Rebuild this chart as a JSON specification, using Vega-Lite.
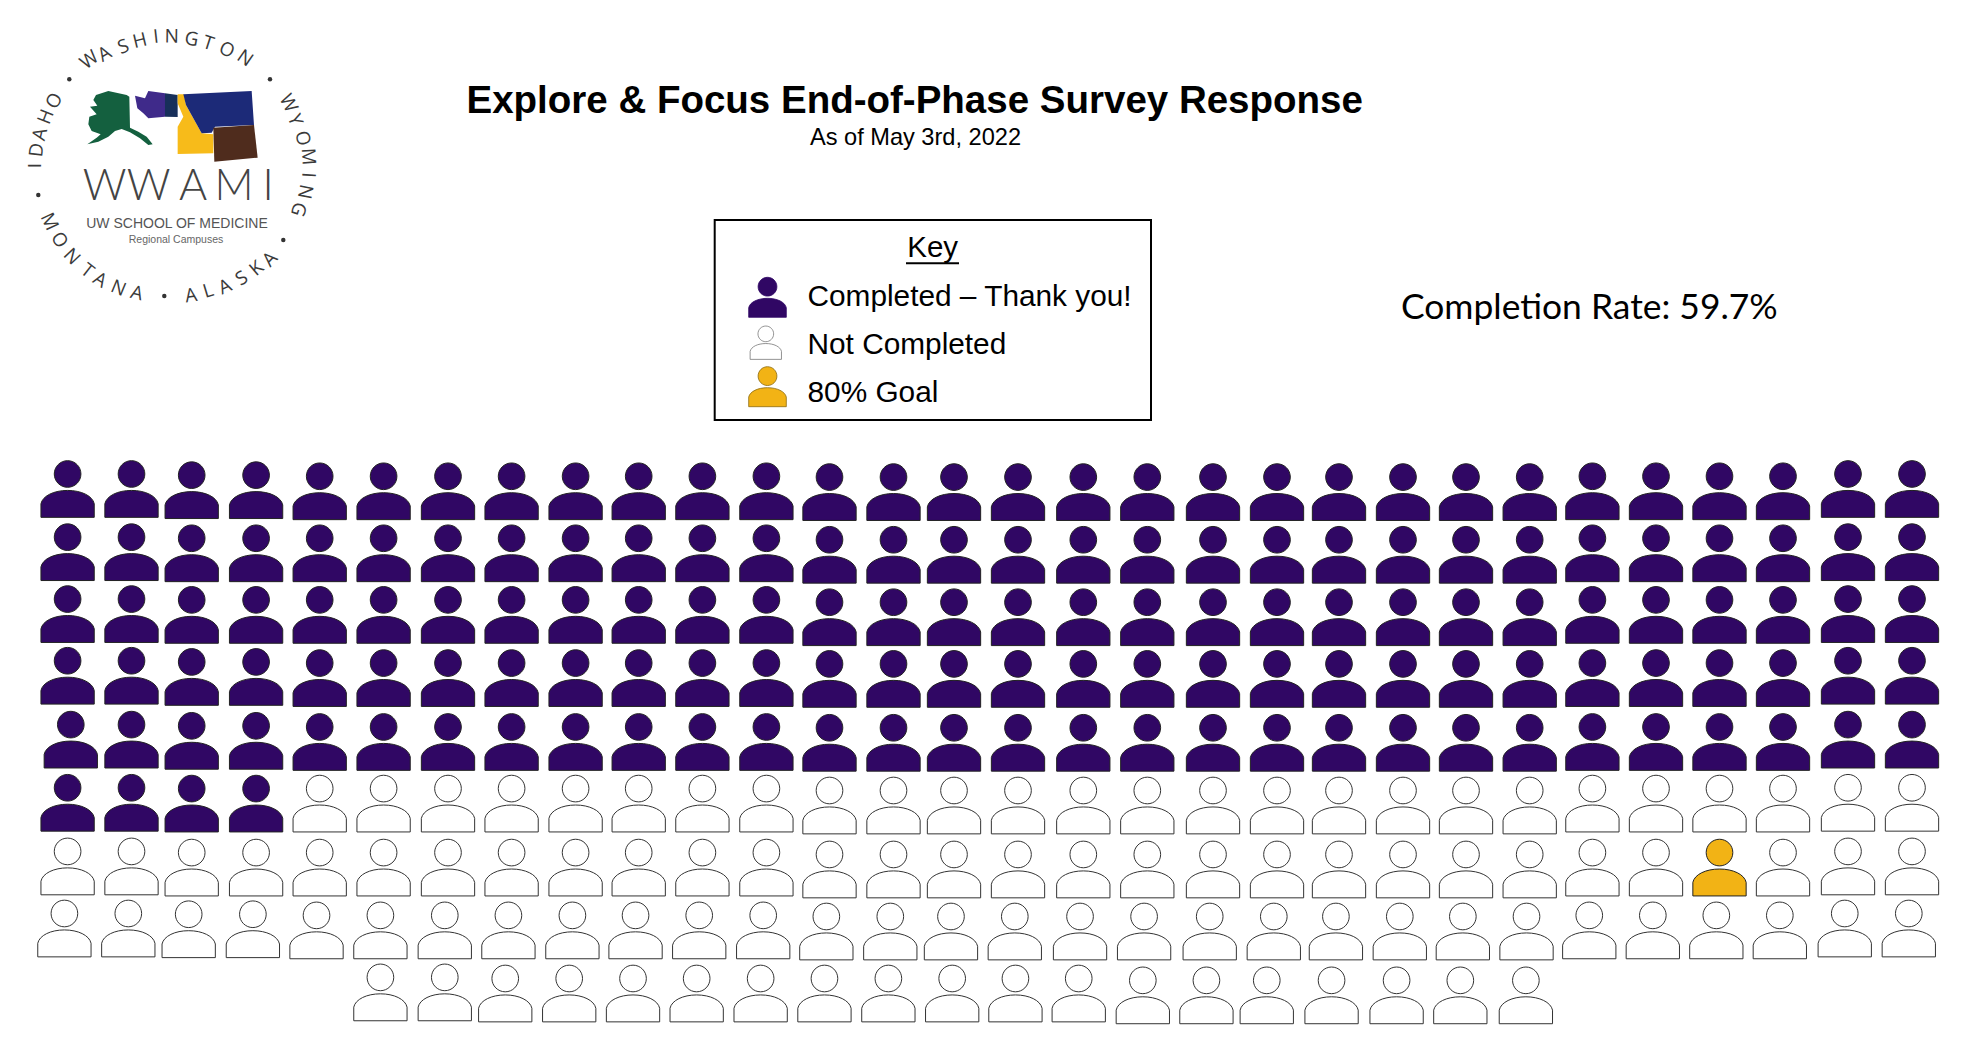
{"$schema":"https://vega.github.io/schema/vega-lite/v6.json","width":1970,"height":1054,"padding":0,"autosize":{"type":"fit","contains":"padding"},"background":"white","config":{"view":{"stroke":null}},
"datasets":{"people":[
{"col":1,"row":0.963,"status":"Completed"},{"col":2,"row":0.963,"status":"Completed"},{"col":3,"row":0.982,"status":"Completed"},{"col":4,"row":0.982,"status":"Completed"},{"col":5,"row":1,"status":"Completed"},{"col":6,"row":1,"status":"Completed"},{"col":7,"row":1,"status":"Completed"},{"col":8,"row":1,"status":"Completed"},{"col":9,"row":1,"status":"Completed"},{"col":10,"row":1,"status":"Completed"},{"col":11,"row":1,"status":"Completed"},{"col":12,"row":1,"status":"Completed"},{"col":13,"row":1.013,"status":"Completed"},{"col":14,"row":1.013,"status":"Completed"},{"col":15,"row":1.013,"status":"Completed"},{"col":16,"row":1.013,"status":"Completed"},{"col":17,"row":1.013,"status":"Completed"},{"col":18,"row":1.013,"status":"Completed"},{"col":19,"row":1.013,"status":"Completed"},{"col":20,"row":1.013,"status":"Completed"},{"col":21,"row":1.013,"status":"Completed"},{"col":22,"row":1.013,"status":"Completed"},{"col":23,"row":1.013,"status":"Completed"},{"col":24,"row":1.013,"status":"Completed"},{"col":25,"row":1,"status":"Completed"},{"col":26,"row":1,"status":"Completed"},{"col":27,"row":1,"status":"Completed"},{"col":28,"row":1,"status":"Completed"},{"col":29,"row":0.963,"status":"Completed"},{"col":30,"row":0.963,"status":"Completed"},
{"col":1,"row":1.982,"status":"Completed"},{"col":2,"row":1.982,"status":"Completed"},{"col":3,"row":2,"status":"Completed"},{"col":4,"row":2,"status":"Completed"},{"col":5,"row":2,"status":"Completed"},{"col":6,"row":2,"status":"Completed"},{"col":7,"row":2,"status":"Completed"},{"col":8,"row":2,"status":"Completed"},{"col":9,"row":2,"status":"Completed"},{"col":10,"row":2,"status":"Completed"},{"col":11,"row":2,"status":"Completed"},{"col":12,"row":2,"status":"Completed"},{"col":13,"row":2.024,"status":"Completed"},{"col":14,"row":2.024,"status":"Completed"},{"col":15,"row":2.024,"status":"Completed"},{"col":16,"row":2.024,"status":"Completed"},{"col":17,"row":2.024,"status":"Completed"},{"col":18,"row":2.024,"status":"Completed"},{"col":19,"row":2.024,"status":"Completed"},{"col":20,"row":2.024,"status":"Completed"},{"col":21,"row":2.024,"status":"Completed"},{"col":22,"row":2.024,"status":"Completed"},{"col":23,"row":2.024,"status":"Completed"},{"col":24,"row":2.024,"status":"Completed"},{"col":25,"row":2,"status":"Completed"},{"col":26,"row":2,"status":"Completed"},{"col":27,"row":2,"status":"Completed"},{"col":28,"row":2,"status":"Completed"},{"col":29,"row":1.982,"status":"Completed"},{"col":30,"row":1.982,"status":"Completed"},
{"col":1,"row":2.987,"status":"Completed"},{"col":2,"row":2.987,"status":"Completed"},{"col":3,"row":3,"status":"Completed"},{"col":4,"row":3,"status":"Completed"},{"col":5,"row":3,"status":"Completed"},{"col":6,"row":3,"status":"Completed"},{"col":7,"row":3,"status":"Completed"},{"col":8,"row":3,"status":"Completed"},{"col":9,"row":3,"status":"Completed"},{"col":10,"row":3,"status":"Completed"},{"col":11,"row":3,"status":"Completed"},{"col":12,"row":3,"status":"Completed"},{"col":13,"row":3.037,"status":"Completed"},{"col":14,"row":3.037,"status":"Completed"},{"col":15,"row":3.037,"status":"Completed"},{"col":16,"row":3.037,"status":"Completed"},{"col":17,"row":3.037,"status":"Completed"},{"col":18,"row":3.037,"status":"Completed"},{"col":19,"row":3.037,"status":"Completed"},{"col":20,"row":3.037,"status":"Completed"},{"col":21,"row":3.037,"status":"Completed"},{"col":22,"row":3.037,"status":"Completed"},{"col":23,"row":3.037,"status":"Completed"},{"col":24,"row":3.037,"status":"Completed"},{"col":25,"row":3,"status":"Completed"},{"col":26,"row":3,"status":"Completed"},{"col":27,"row":3,"status":"Completed"},{"col":28,"row":3,"status":"Completed"},{"col":29,"row":2.987,"status":"Completed"},{"col":30,"row":2.987,"status":"Completed"},
{"col":1,"row":3.963,"status":"Completed"},{"col":2,"row":3.963,"status":"Completed"},{"col":3,"row":3.982,"status":"Completed"},{"col":4,"row":3.982,"status":"Completed"},{"col":5,"row":4,"status":"Completed"},{"col":6,"row":4,"status":"Completed"},{"col":7,"row":4,"status":"Completed"},{"col":8,"row":4,"status":"Completed"},{"col":9,"row":4,"status":"Completed"},{"col":10,"row":4,"status":"Completed"},{"col":11,"row":4,"status":"Completed"},{"col":12,"row":4,"status":"Completed"},{"col":13,"row":4.013,"status":"Completed"},{"col":14,"row":4.013,"status":"Completed"},{"col":15,"row":4.013,"status":"Completed"},{"col":16,"row":4.013,"status":"Completed"},{"col":17,"row":4.013,"status":"Completed"},{"col":18,"row":4.013,"status":"Completed"},{"col":19,"row":4.013,"status":"Completed"},{"col":20,"row":4.013,"status":"Completed"},{"col":21,"row":4.013,"status":"Completed"},{"col":22,"row":4.013,"status":"Completed"},{"col":23,"row":4.013,"status":"Completed"},{"col":24,"row":4.013,"status":"Completed"},{"col":25,"row":4,"status":"Completed"},{"col":26,"row":4,"status":"Completed"},{"col":27,"row":4,"status":"Completed"},{"col":28,"row":4,"status":"Completed"},{"col":29,"row":3.963,"status":"Completed"},{"col":30,"row":3.963,"status":"Completed"},
{"col":1.05,"row":4.963,"status":"Completed"},{"col":2,"row":4.963,"status":"Completed"},{"col":3,"row":4.982,"status":"Completed"},{"col":4,"row":4.982,"status":"Completed"},{"col":5,"row":5,"status":"Completed"},{"col":6,"row":5,"status":"Completed"},{"col":7,"row":5,"status":"Completed"},{"col":8,"row":5,"status":"Completed"},{"col":9,"row":5,"status":"Completed"},{"col":10,"row":5,"status":"Completed"},{"col":11,"row":5,"status":"Completed"},{"col":12,"row":5,"status":"Completed"},{"col":13,"row":5.013,"status":"Completed"},{"col":14,"row":5.013,"status":"Completed"},{"col":15,"row":5.013,"status":"Completed"},{"col":16,"row":5.013,"status":"Completed"},{"col":17,"row":5.013,"status":"Completed"},{"col":18,"row":5.013,"status":"Completed"},{"col":19,"row":5.013,"status":"Completed"},{"col":20,"row":5.013,"status":"Completed"},{"col":21,"row":5.013,"status":"Completed"},{"col":22,"row":5.013,"status":"Completed"},{"col":23,"row":5.013,"status":"Completed"},{"col":24,"row":5.013,"status":"Completed"},{"col":25,"row":5,"status":"Completed"},{"col":26,"row":5,"status":"Completed"},{"col":27,"row":5,"status":"Completed"},{"col":28,"row":5,"status":"Completed"},{"col":29,"row":4.963,"status":"Completed"},{"col":30,"row":4.963,"status":"Completed"},
{"col":1,"row":5.987,"status":"Completed"},{"col":2,"row":5.987,"status":"Completed"},{"col":3,"row":6,"status":"Completed"},{"col":4,"row":6,"status":"Completed"},{"col":5,"row":6,"status":"Not Completed"},{"col":6,"row":6,"status":"Not Completed"},{"col":7,"row":6,"status":"Not Completed"},{"col":8,"row":6,"status":"Not Completed"},{"col":9,"row":6,"status":"Not Completed"},{"col":10,"row":6,"status":"Not Completed"},{"col":11,"row":6,"status":"Not Completed"},{"col":12,"row":6,"status":"Not Completed"},{"col":13,"row":6.03,"status":"Not Completed"},{"col":14,"row":6.03,"status":"Not Completed"},{"col":15,"row":6.03,"status":"Not Completed"},{"col":16,"row":6.03,"status":"Not Completed"},{"col":17,"row":6.03,"status":"Not Completed"},{"col":18,"row":6.03,"status":"Not Completed"},{"col":19,"row":6.03,"status":"Not Completed"},{"col":20,"row":6.03,"status":"Not Completed"},{"col":21,"row":6.03,"status":"Not Completed"},{"col":22,"row":6.03,"status":"Not Completed"},{"col":23,"row":6.03,"status":"Not Completed"},{"col":24,"row":6.03,"status":"Not Completed"},{"col":25,"row":6,"status":"Not Completed"},{"col":26,"row":6,"status":"Not Completed"},{"col":27,"row":6,"status":"Not Completed"},{"col":28,"row":6,"status":"Not Completed"},{"col":29,"row":5.987,"status":"Not Completed"},{"col":30,"row":5.987,"status":"Not Completed"},
{"col":1,"row":6.982,"status":"Not Completed"},{"col":2,"row":6.982,"status":"Not Completed"},{"col":3,"row":7,"status":"Not Completed"},{"col":4,"row":7,"status":"Not Completed"},{"col":5,"row":7,"status":"Not Completed"},{"col":6,"row":7,"status":"Not Completed"},{"col":7,"row":7,"status":"Not Completed"},{"col":8,"row":7,"status":"Not Completed"},{"col":9,"row":7,"status":"Not Completed"},{"col":10,"row":7,"status":"Not Completed"},{"col":11,"row":7,"status":"Not Completed"},{"col":12,"row":7,"status":"Not Completed"},{"col":13,"row":7.03,"status":"Not Completed"},{"col":14,"row":7.03,"status":"Not Completed"},{"col":15,"row":7.03,"status":"Not Completed"},{"col":16,"row":7.03,"status":"Not Completed"},{"col":17,"row":7.03,"status":"Not Completed"},{"col":18,"row":7.03,"status":"Not Completed"},{"col":19,"row":7.03,"status":"Not Completed"},{"col":20,"row":7.03,"status":"Not Completed"},{"col":21,"row":7.03,"status":"Not Completed"},{"col":22,"row":7.03,"status":"Not Completed"},{"col":23,"row":7.03,"status":"Not Completed"},{"col":24,"row":7.03,"status":"Not Completed"},{"col":25,"row":7,"status":"Not Completed"},{"col":26,"row":7,"status":"Not Completed"},{"col":27,"row":7,"status":"80% Goal"},{"col":28,"row":7,"status":"Not Completed"},{"col":29,"row":6.982,"status":"Not Completed"},{"col":30,"row":6.982,"status":"Not Completed"},
{"col":0.95,"row":7.97,"status":"Not Completed"},{"col":1.95,"row":7.97,"status":"Not Completed"},{"col":2.95,"row":7.982,"status":"Not Completed"},{"col":3.95,"row":7.982,"status":"Not Completed"},{"col":4.95,"row":8,"status":"Not Completed"},{"col":5.95,"row":8,"status":"Not Completed"},{"col":6.95,"row":8,"status":"Not Completed"},{"col":7.95,"row":8,"status":"Not Completed"},{"col":8.95,"row":8,"status":"Not Completed"},{"col":9.95,"row":8,"status":"Not Completed"},{"col":10.95,"row":8,"status":"Not Completed"},{"col":11.95,"row":8,"status":"Not Completed"},{"col":12.95,"row":8.018,"status":"Not Completed"},{"col":13.95,"row":8.018,"status":"Not Completed"},{"col":14.95,"row":8.018,"status":"Not Completed"},{"col":15.95,"row":8.018,"status":"Not Completed"},{"col":16.95,"row":8.018,"status":"Not Completed"},{"col":17.95,"row":8.018,"status":"Not Completed"},{"col":18.95,"row":8.018,"status":"Not Completed"},{"col":19.95,"row":8.018,"status":"Not Completed"},{"col":20.95,"row":8.018,"status":"Not Completed"},{"col":21.95,"row":8.018,"status":"Not Completed"},{"col":22.95,"row":8.018,"status":"Not Completed"},{"col":23.95,"row":8.018,"status":"Not Completed"},{"col":24.95,"row":8,"status":"Not Completed"},{"col":25.95,"row":8,"status":"Not Completed"},{"col":26.95,"row":8,"status":"Not Completed"},{"col":27.95,"row":8,"status":"Not Completed"},{"col":28.95,"row":7.97,"status":"Not Completed"},{"col":29.95,"row":7.97,"status":"Not Completed"},
{"col":5.95,"row":9,"status":"Not Completed"},{"col":6.95,"row":9,"status":"Not Completed"},{"col":7.9,"row":9.018,"status":"Not Completed"},{"col":8.9,"row":9.018,"status":"Not Completed"},{"col":9.91,"row":9.018,"status":"Not Completed"},{"col":10.91,"row":9.018,"status":"Not Completed"},{"col":11.91,"row":9.018,"status":"Not Completed"},{"col":12.92,"row":9.018,"status":"Not Completed"},{"col":13.92,"row":9.018,"status":"Not Completed"},{"col":14.97,"row":9.018,"status":"Not Completed"},{"col":15.96,"row":9.018,"status":"Not Completed"},{"col":16.93,"row":9.018,"status":"Not Completed"},{"col":17.93,"row":9.048,"status":"Not Completed"},{"col":18.9,"row":9.048,"status":"Not Completed"},{"col":19.84,"row":9.048,"status":"Not Completed"},{"col":20.88,"row":9.048,"status":"Not Completed"},{"col":21.9,"row":9.048,"status":"Not Completed"},{"col":22.91,"row":9.048,"status":"Not Completed"},{"col":23.94,"row":9.048,"status":"Not Completed"}
]},
"encoding":{"x":{"field":"x","type":"quantitative","axis":null,"scale":{"domain":[0,1970],"nice":false,"zero":false}},"y":{"field":"y","type":"quantitative","axis":null,"scale":{"domain":[0,1054],"reverse":true,"nice":false,"zero":false}}},
"layer":[
{"data":{"name":"people"},"mark":{"type":"point","shape":"M-0.47,-0.53 A0.47,0.47 0 1 1 0.47,-0.53 A0.47,0.47 0 1 1 -0.47,-0.53 Z M-0.94,1 L-0.94,0.52 C-0.88,0.24 -0.48,0.05 0,0.05 C0.48,0.05 0.88,0.24 0.94,0.52 L0.94,1 Z","filled":true,"size":3215,"strokeWidth":1,"opacity":1},
"encoding":{"x":{"field":"col","type":"quantitative","axis":null,"scale":{"domain":[1,2,3,4,5,6,7,8,9,10,11,12,13,14,15,16,17,18,19,20,21,22,23,24,25,26,27,28,29,30],"range":[67.6,131.5,191.7,256.1,319.7,383.6,448,511.6,575.6,638.7,702.4,766.4,829.5,893.5,954,1018,1083.3,1147.3,1213,1277,1339,1403,1466,1529.7,1592.4,1656,1719.5,1783,1848,1912],"nice":false,"zero":false}},
"y":{"field":"row","type":"quantitative","axis":null,"scale":{"domain":[1,2,3,4,5,6,7,8,9],"range":[491.3,553.3,614.9,678.1,742,803.6,867.6,930.4,992.4],"nice":false,"zero":false}},
"fill":{"field":"status","type":"nominal","legend":null,"scale":{"domain":["Completed","Not Completed","80% Goal"],"range":["#300764","#ffffff","#f2b315"]}},
"stroke":{"field":"status","type":"nominal","legend":null,"scale":{"domain":["Completed","Not Completed","80% Goal"],"range":["#222222","#333333","#222222"]}}}},
{"data":{"values":[{"x":714.7,"x2":1151,"y":220,"y2":420}]},"mark":{"type":"rect","fill":"white","stroke":"black","strokeWidth":2},"encoding":{"x2":{"field":"x2"},"y2":{"field":"y2"}}},
{"data":{"values":[{"x":906,"x2":959,"y":263.3}]},"mark":{"type":"rule","stroke":"black","strokeWidth":2},"encoding":{"x2":{"field":"x2"}}},
{"data":{"values":[{"x":767.5,"y":297.3,"status":"Completed","s":1600},{"x":765.8,"y":342.7,"status":"Not Completed","s":1111},{"x":767.5,"y":386.7,"status":"80% Goal","s":1600}]},"mark":{"type":"point","shape":"M-0.47,-0.53 A0.47,0.47 0 1 1 0.47,-0.53 A0.47,0.47 0 1 1 -0.47,-0.53 Z M-0.94,1 L-0.94,0.52 C-0.88,0.24 -0.48,0.05 0,0.05 C0.48,0.05 0.88,0.24 0.94,0.52 L0.94,1 Z","filled":true,"strokeWidth":0.8,"opacity":1},
"encoding":{"size":{"field":"s","type":"quantitative","scale":null,"legend":null},
"fill":{"field":"status","type":"nominal","legend":null,"scale":{"domain":["Completed","Not Completed","80% Goal"],"range":["#300764","#ffffff","#f2b315"]}},
"stroke":{"field":"status","type":"nominal","legend":null,"scale":{"domain":["Completed","Not Completed","80% Goal"],"range":["#300764","#777777","#8a6a10"]}}}},
{"data":{"values":[{"x":807.5,"y":306,"label":"Completed – Thank you!"},{"x":807.5,"y":353.6,"label":"Not Completed"},{"x":807.5,"y":401.7,"label":"80% Goal"}]},"mark":{"type":"text","font":"Liberation Sans","fontSize":29.8,"align":"left","baseline":"alphabetic","fill":"black"},"encoding":{"text":{"field":"label"}}},
{"data":{"values":[{"x":932.7,"y":257.3,"label":"Key"}]},"mark":{"type":"text","font":"Liberation Sans","fontSize":29.5,"align":"center","baseline":"alphabetic","fill":"black"},"encoding":{"text":{"field":"label"}}},
{"data":{"values":[{"x":914.7,"y":112.7,"label":"Explore & Focus End-of-Phase Survey Response"}]},"mark":{"type":"text","font":"Liberation Sans","fontWeight":"bold","fontSize":38.5,"align":"center","baseline":"alphabetic","fill":"black"},"encoding":{"text":{"field":"label"}}},
{"data":{"values":[{"x":915.5,"y":145,"label":"As of May 3rd, 2022"}]},"mark":{"type":"text","font":"Liberation Sans","fontSize":23.6,"align":"center","baseline":"alphabetic","fill":"black"},"encoding":{"text":{"field":"label"}}},
{"data":{"values":[{"x":1401,"y":319,"label":"Completion Rate: 59.7%"}]},"mark":{"type":"text","font":"Lato","fontSize":35.4,"align":"left","baseline":"alphabetic","fill":"black"},"encoding":{"text":{"field":"label"}}},
{"data":{"values":[{"x":80,"y":85,"region":"Alaska"},{"x":80,"y":85,"region":"Washington west"},{"x":80,"y":85,"region":"Washington east"},{"x":80,"y":85,"region":"Idaho"},{"x":80,"y":85,"region":"Montana"},{"x":80,"y":85,"region":"Wyoming"}]},"mark":{"type":"point","filled":true,"size":0.4444,"opacity":1,"strokeWidth":0},
"encoding":{"fill":{"field":"region","type":"nominal","legend":null,"scale":{"domain":["Alaska","Washington west","Washington east","Idaho","Montana","Wyoming"],"range":["#14603f","#3f2a8a","#172f5a","#f7bb1a","#1c2a78","#4f2c1d"]}},
"shape":{"field":"region","type":"nominal","legend":null,"scale":{"domain":["Alaska","Washington west","Washington east","Idaho","Montana","Wyoming"],"range":["M48,30 L85,18 L140,30 L148,35 L150,128 L175,140 L200,155 L218,178 L205,180 L180,160 L150,142 L125,132 L105,138 L85,155 L55,170 L22,178 L50,158 L62,148 L35,138 L25,118 L28,95 L50,88 L30,65 L52,62 L40,45 Z","M165,32 L195,40 L205,18 L255,25 L255,95 L205,100 L190,85 L172,70 Z","M255,25 L293,30 L293,96 L255,95 Z","M293,28 L312,28 L318,60 L340,100 L365,145 L400,148 L400,205 L293,207 L293,125 L310,95 L293,55 Z","M310,28 L515,18 L522,120 L405,125 L395,143 L365,145 L340,100 L318,60 Z","M400,128 L522,120 L533,218 L403,230 Z"]}}}},
{"data":{"values":[{"x":89.3,"y":60,"a":-37.5,"label":"W"},{"x":104.5,"y":54,"a":-30.6,"label":"A"},{"x":123.3,"y":46.7,"a":-21.5,"label":"S"},{"x":140,"y":40.7,"a":-13.6,"label":"H"},{"x":156,"y":36.7,"a":-6.2,"label":"I"},{"x":171.7,"y":36.7,"a":0.7,"label":"N"},{"x":191.7,"y":39.3,"a":9.8,"label":"G"},{"x":208.3,"y":43.3,"a":17.5,"label":"T"},{"x":226.7,"y":50,"a":26.2,"label":"O"},{"x":245,"y":58.3,"a":35,"label":"N"},
{"x":35,"y":165.7,"a":-90,"label":"I"},{"x":36.7,"y":150,"a":-83.6,"label":"D"},{"x":40,"y":134.3,"a":-76.7,"label":"A"},{"x":46,"y":116.7,"a":-68.7,"label":"H"},{"x":54.3,"y":101,"a":-61,"label":"O"},
{"x":288.3,"y":103.3,"a":62.5,"label":"W"},{"x":295,"y":120,"a":70,"label":"Y"},{"x":302.7,"y":138.3,"a":78.6,"label":"O"},{"x":308.3,"y":156.7,"a":86.5,"label":"M"},{"x":308.3,"y":175,"a":94,"label":"I"},{"x":305,"y":191.7,"a":101,"label":"N"},{"x":298.3,"y":209.3,"a":109,"label":"G"},
{"x":49.3,"y":221.7,"a":64.8,"label":"M"},{"x":59.3,"y":240,"a":55.9,"label":"O"},{"x":71.7,"y":256.7,"a":47,"label":"N"},{"x":87.3,"y":270.7,"a":38,"label":"T"},{"x":100,"y":280,"a":31.3,"label":"A"},{"x":118.3,"y":288.3,"a":22.7,"label":"N"},{"x":136.7,"y":293.3,"a":14.6,"label":"A"},
{"x":191,"y":295.7,"a":-9,"label":"A"},{"x":208.3,"y":290.7,"a":-17,"label":"L"},{"x":225,"y":286.7,"a":-24.3,"label":"A"},{"x":241.7,"y":278.3,"a":-32.3,"label":"S"},{"x":256.7,"y":268.3,"a":-40,"label":"K"},{"x":270,"y":259.3,"a":-46.7,"label":"A"}]},
"mark":{"type":"text","font":"Open Sans","fontSize":19,"align":"center","baseline":"middle","fill":"#3a3a3a"},"encoding":{"text":{"field":"label"},"angle":{"field":"a","type":"quantitative","scale":null}}},
{"data":{"values":[{"x":69.3,"y":79.3},{"x":270,"y":79.3},{"x":38.3,"y":195},{"x":283.3,"y":240},{"x":164.3,"y":296}]},"mark":{"type":"point","shape":"circle","filled":true,"size":20,"fill":"#333333","opacity":1,"strokeWidth":0}},
{"data":{"values":[{"x":104.5,"y":199.5,"label":"W"},{"x":148.5,"y":199.5,"label":"W"},{"x":193,"y":199.5,"label":"A"},{"x":234,"y":199.5,"label":"M"},{"x":268,"y":199.5,"label":"I"}]},"mark":{"type":"text","font":"Lato","fontWeight":300,"fontSize":43,"align":"center","baseline":"alphabetic","fill":"#444444"},"encoding":{"text":{"field":"label"}}},
{"data":{"values":[{"x":177,"y":228,"label":"UW SCHOOL OF MEDICINE"}]},"mark":{"type":"text","font":"Liberation Sans","fontSize":14,"align":"center","baseline":"alphabetic","fill":"#555555"},"encoding":{"text":{"field":"label"}}},
{"data":{"values":[{"x":176,"y":243,"label":"Regional Campuses"}]},"mark":{"type":"text","font":"Liberation Sans","fontSize":10.5,"align":"center","baseline":"alphabetic","fill":"#666666"},"encoding":{"text":{"field":"label"}}}
],
"resolve":{"scale":{"x":"independent","y":"independent","fill":"independent","stroke":"independent","shape":"independent","size":"independent","angle":"independent"}}}
